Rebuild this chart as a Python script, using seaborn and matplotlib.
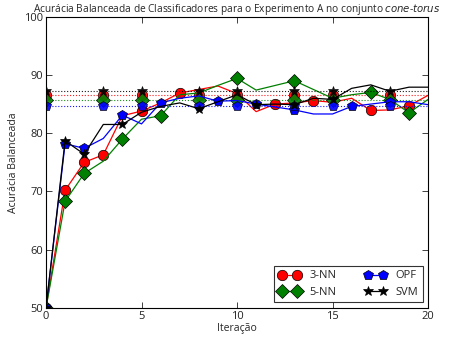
import numpy as np
import pandas as pd
import matplotlib
matplotlib.use("Agg")
import matplotlib.pyplot as plt
import seaborn as sns
from matplotlib.lines import Line2D

# Dados (21 iterações)
iteracoes = list(range(21))
acc_3nn = [50, 70.2, 75.0, 76.3, 83.0, 83.8, 85.2, 86.9, 87.5, 88.1, 86.8,
           83.7, 85.0, 85.2, 85.6, 85.3, 86.0, 83.9, 84.0, 84.7, 86.5]
acc_5nn = [50, 68.3, 73.1, 75.2, 79.0, 82.4, 83.0, 86.6, 86.9, 88.2, 89.4,
           87.4, 88.2, 89.0, 87.5, 86.0, 86.6, 87.0, 85.8, 83.5, 85.8]
acc_opf = [50, 78.2, 77.4, 79.1, 83.1, 81.6, 85.2, 86.0, 86.4, 85.5, 85.6,
           85.0, 84.5, 84.0, 83.3, 83.3, 84.6, 85.0, 85.4, 85.4, 84.9]
acc_svm = [50, 78.7, 76.4, 81.5, 81.5, 83.6, 84.6, 85.2, 84.2, 85.4, 86.6,
           84.9, 85.0, 84.9, 86.0, 85.8, 87.7, 88.3, 87.2, 87.9, 87.9]

# Iterações que recebem marcador em cada curva
marcas_3nn = [0, 1, 2, 3, 5, 7, 12, 14, 17, 19]
marcas_5nn = [0, 1, 2, 4, 6, 10, 13, 17, 19]
marcas_opf = [0, 1, 2, 4, 6, 9, 11, 13, 16, 18]
marcas_svm = [0, 1, 2, 4, 8, 11, 13, 15]

# Linhas de referência (pontilhadas)
ref_3nn = 86.6
ref_5nn = 85.7
ref_opf = 84.6
ref_svm = 87.3
marcas_ref = [0, 3, 5, 8, 10, 13, 15, 18]

sns.set_style("ticks")
plt.rcParams['font.family'] = ['Open Sans', 'DejaVu Sans']
plt.rcParams['xtick.direction'] = 'in'
plt.rcParams['ytick.direction'] = 'in'
plt.rcParams['xtick.top'] = True
plt.rcParams['ytick.right'] = True

fig = plt.figure(figsize=(4.53, 3.40), dpi=100)
ax = fig.add_axes([0.1015, 0.094, 0.8435, 0.857])

series = [
    ("3-NN", acc_3nn, marcas_3nn, ref_3nn, "red", "o", 7.5),
    ("5-NN", acc_5nn, marcas_5nn, ref_5nn, "green", "D", 7.0),
    ("OPF", acc_opf, marcas_opf, ref_opf, "blue", "p", 7.5),
    ("SVM", acc_svm, marcas_svm, ref_svm, "black", "*", 7.0),
]

handles = []
for nome, valores, marcas, ref, cor, mk, ms in series:
    df = pd.DataFrame({"it": iteracoes, "acc": valores})
    sns.lineplot(data=df, x="it", y="acc", ax=ax, color=cor, lw=0.9,
                 marker=mk, markersize=ms, markevery=marcas,
                 markeredgecolor="black", markeredgewidth=0.5, legend=False)
    dref = pd.DataFrame({"it": iteracoes, "acc": [ref] * len(iteracoes)})
    sns.lineplot(data=dref, x="it", y="acc", ax=ax, color=cor, lw=0.8,
                 linestyle=":", alpha=0.9, marker=mk, markersize=ms,
                 markevery=marcas_ref, markeredgecolor="black",
                 markeredgewidth=0.5, legend=False)
    handles.append(Line2D([0], [0], color=cor, lw=0.9, marker=mk, markersize=ms,
                          markeredgecolor="black", markeredgewidth=0.5, label=nome))

ax.set_xlim(0, 20)
ax.set_ylim(50, 100)
ax.set_xticks([0, 5, 10, 15, 20])
ax.set_yticks([50, 60, 70, 80, 90, 100])
ax.tick_params(labelsize=8, length=4, width=0.6, colors="#222222", pad=2)
for sp in ax.spines.values():
    sp.set_color("black")
    sp.set_linewidth(0.8)

ax.set_xlabel("Iteração", fontsize=7.5, labelpad=1)
ax.set_ylabel("Acurácia Balanceada", fontsize=7.5, labelpad=4)
ax.set_title("Acurácia Balanceada de Classificadores para o Experimento A no conjunto $\\it{cone}$-$\\it{torus}$",
             fontsize=7.3, pad=3)

leg = ax.legend(handles=handles, loc="lower right", ncol=2, fontsize=8,
                numpoints=2, frameon=True, fancybox=False, borderaxespad=0.5,
                columnspacing=2.5, handlelength=2.0)
leg.get_frame().set_edgecolor("black")
leg.get_frame().set_linewidth(0.8)

fig.savefig("out.png", dpi=100)
